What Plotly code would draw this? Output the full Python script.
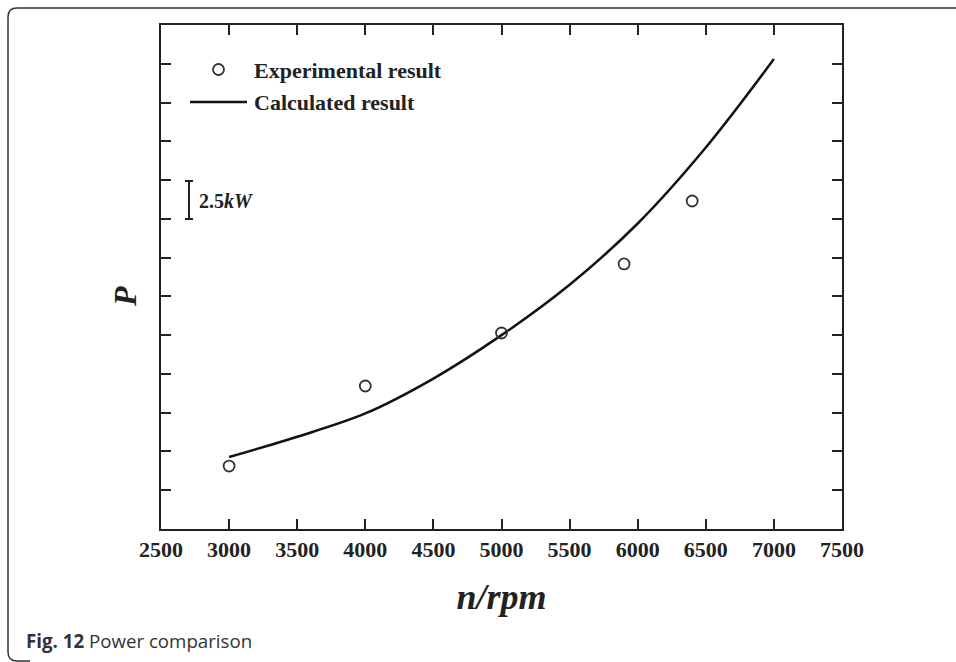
import plotly.graph_objects as go

# Data (P in kW, offset arbitrary since the axis has no labels)
calc_rpm = [3000, 3500, 4000, 4500, 5000, 5500, 6000, 6500, 7000]
calc_p = [4.64, 5.95, 7.45, 9.70, 12.50, 15.75, 19.70, 24.60, 30.30]
exp_rpm = [3000, 4000, 5000, 5900, 6400]
exp_p = [4.06, 9.22, 12.64, 17.09, 21.15]
x_ticks = [2500, 3000, 3500, 4000, 4500, 5000, 5500, 6000, 6500, 7000, 7500]

W, H = 956, 662
L, R, T, B = 161, 842, 25, 529

def px(x):
    return (x - L) / (R - L)

def py(y):
    return (B - y) / (B - T)

serif = "Liberation Serif, Times New Roman, serif"
ink = "#222222"

fig = go.Figure()
fig.add_trace(go.Scatter(x=calc_rpm, y=calc_p, mode="lines", line=dict(color="#111111", width=2.5, shape="spline"),
                         showlegend=False))
fig.add_trace(go.Scatter(x=exp_rpm, y=exp_p, mode="markers",
                         marker=dict(symbol="circle-open", size=11, color="#333333", line=dict(width=1.8, color="#333333")),
                         showlegend=False))

axis_common = dict(showline=True, linecolor=ink, linewidth=2, mirror="ticks", ticks="inside",
                   ticklen=10, tickwidth=2, tickcolor=ink, showgrid=False, zeroline=False)

fig.update_xaxes(range=[2500, 7500], tickvals=x_ticks, ticktext=[f"<b>{v}</b>" for v in x_ticks],
                 tickfont=dict(family=serif, size=22, color=ink),
                 title=dict(text="<b><i>n/rpm</i></b>", font=dict(family=serif, size=36, color=ink), standoff=22),
                 **axis_common)
fig.update_yaxes(range=[0, 32.5], dtick=2.5, tick0=0, showticklabels=False, **axis_common)

shapes = []
annotations = []
# y-axis title
annotations.append(dict(text="<b><i>P</i></b>", xref="paper", yref="paper", x=px(125), y=py(297),
                        xanchor="center", yanchor="middle", textangle=-90, showarrow=False,
                        font=dict(family=serif, size=32, color=ink)))
# legend: marker + text
shapes.append(dict(type="circle", xref="paper", yref="paper", x0=px(213), x1=px(224), y0=py(75), y1=py(64),
                   line=dict(color="#333333", width=1.8)))
annotations.append(dict(text="<b>Experimental result</b>", xref="paper", yref="paper", x=px(252), y=py(70),
                        xanchor="left", yanchor="middle", showarrow=False, font=dict(family=serif, size=22, color=ink)))
shapes.append(dict(type="line", xref="paper", yref="paper", x0=px(190), x1=px(247), y0=py(102), y1=py(102),
                   line=dict(color="#111111", width=2.5)))
annotations.append(dict(text="<b>Calculated result</b>", xref="paper", yref="paper", x=px(252), y=py(102),
                        xanchor="left", yanchor="middle", showarrow=False, font=dict(family=serif, size=22, color=ink)))
# scale bar
for seg in [((189, 181), (189, 219)), ((185, 181), (193, 181)), ((185, 219), (193, 219))]:
    shapes.append(dict(type="line", xref="paper", yref="paper", x0=px(seg[0][0]), y0=py(seg[0][1]),
                       x1=px(seg[1][0]), y1=py(seg[1][1]), line=dict(color=ink, width=2)))
annotations.append(dict(text="<b>2.5<i>kW</i></b>", xref="paper", yref="paper", x=px(197), y=py(201),
                        xanchor="left", yanchor="middle", showarrow=False, font=dict(family=serif, size=20, color=ink)))
# outer frame (open on the right, bottom edge at the window edge)
r = 9
path = (f"M {px(W)} {py(8)} L {px(8 + r)} {py(8)} Q {px(8)} {py(8)} {px(8)} {py(8 + r)} "
        f"L {px(8)} {py(652)} Q {px(8)} {py(661)} {px(8 + r)} {py(661)} L {px(30)} {py(661)}")
shapes.append(dict(type="path", xref="paper", yref="paper", path=path, line=dict(color="#333333", width=1.5)))
# caption
annotations.append(dict(text="<b>Fig. 12</b> Power comparison", xref="paper", yref="paper", x=px(24), y=py(640),
                        xanchor="left", yanchor="middle", showarrow=False,
                        font=dict(family="Open Sans, sans-serif", size=18.7, color="#333333")))

fig.update_layout(width=W, height=H, margin=dict(l=L, r=W - R, t=T, b=H - B),
                  plot_bgcolor="white", paper_bgcolor="white", shapes=shapes, annotations=annotations,
                  showlegend=False)
fig.write_html("out.html")
